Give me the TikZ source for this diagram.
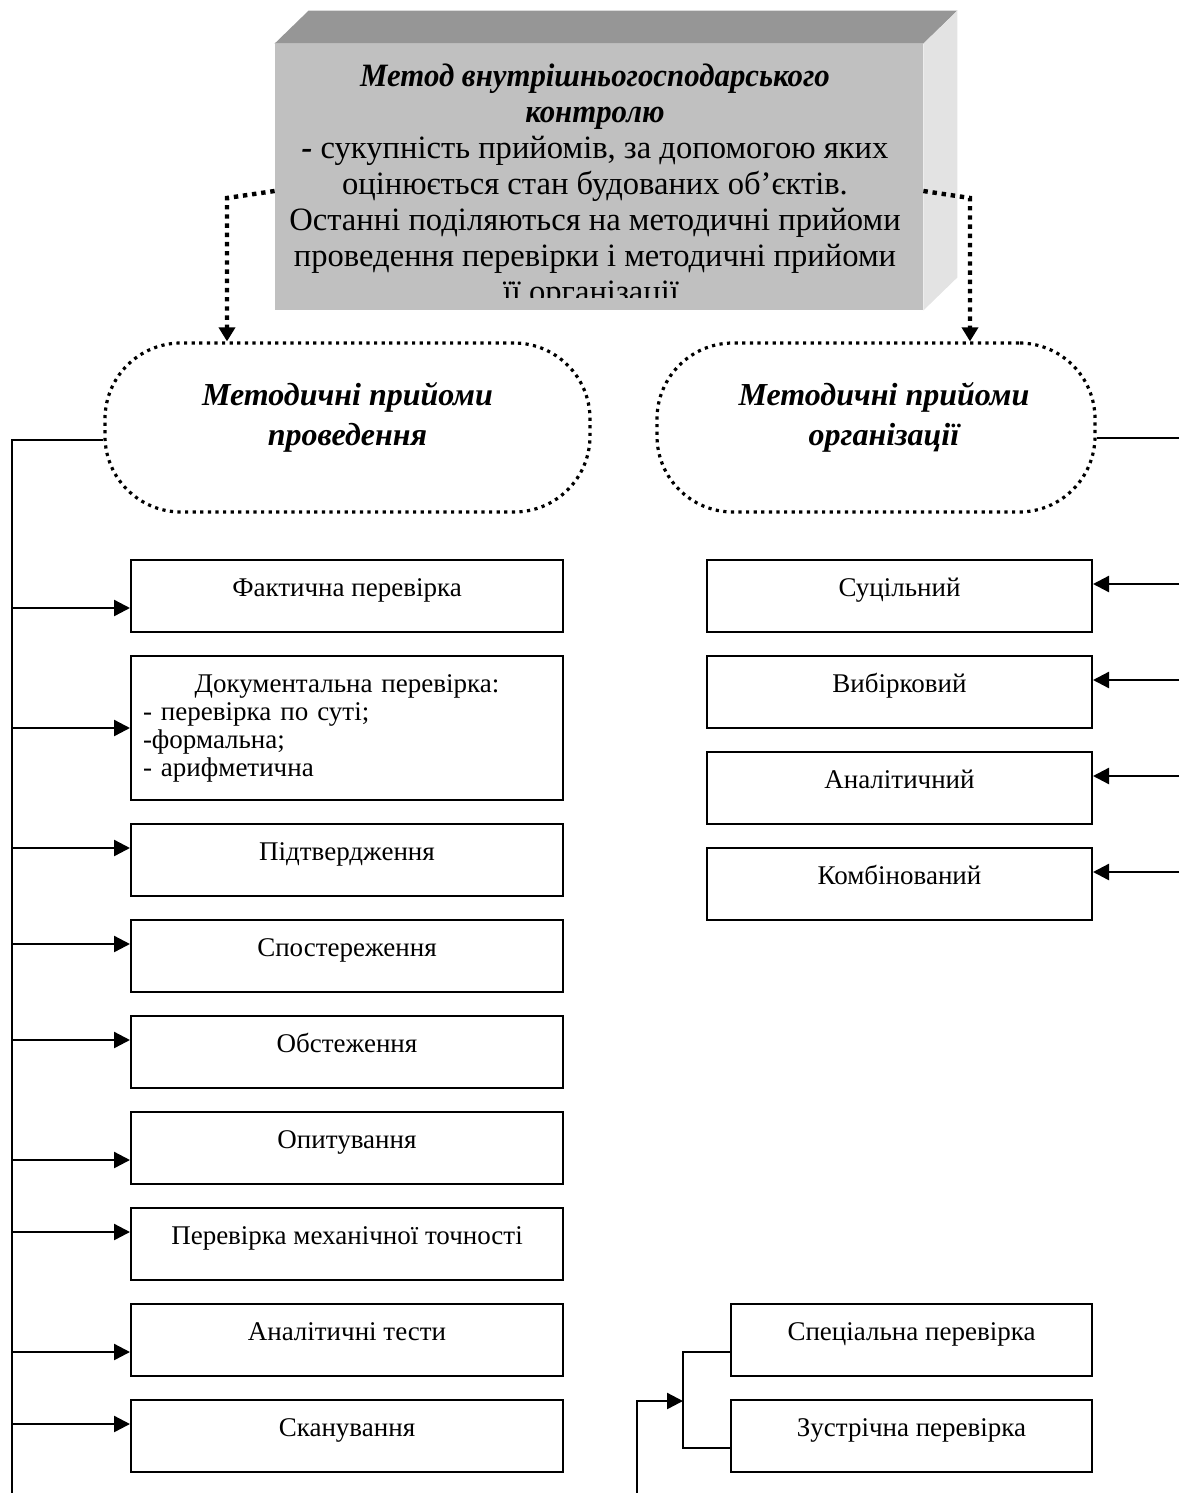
\documentclass[tikz,border=0pt]{standalone}
\usepackage{fontspec}
\usepackage{graphicx}
\setmainfont{Liberation Serif}
\usetikzlibrary{arrows.meta,calc}

\definecolor{frontgray}{RGB}{192,192,192}
\definecolor{topgray}{RGB}{150,150,150}
\definecolor{sidegray}{RGB}{227,227,227}

\newcommand{\headline}[1]{\scalebox{0.945}[1]{\fontsize{16.3}{18}\selectfont\bfseries\itshape #1}}

\begin{document}
\begin{tikzpicture}[
  x=0.5pt, y=-0.5pt,
  pbase/.style={draw, line width=1pt, font=\fontsize{13.5}{14}\selectfont},
  pbox/.style={pbase, minimum height=36pt, inner ysep=0pt,
               text height=18pt, text depth=18pt},
  lwide/.style={minimum width=216pt},
  rwide/.style={minimum width=192.5pt},
  swide/.style={minimum width=180.5pt},
  oval/.style={draw, line width=1.6pt, dash pattern=on 1.6pt off 2.2pt,
               rounded corners=38pt, minimum height=84.5pt},
  ovtext/.style={font=\fontsize{16}{20}\selectfont\bfseries\itshape,
                 align=center, yshift=5pt},
  maintext/.style={font=\fontsize{16.3}{18}\selectfont, align=center, inner sep=0pt},
  link/.style={line width=1pt},
  arr/.style={line width=1.2pt, -{Triangle[length=8pt,width=8pt]}},
  dotlink/.style={line width=2.2pt, dash pattern=on 2.2pt off 2.4pt,
                  -{Triangle[length=7pt,width=8pt]}}
]
\useasboundingbox (0,0) rectangle (1179,1493);

% ---- raised block with the definition ----
\node[fill=frontgray, minimum width=324pt, minimum height=133pt, inner sep=0pt] (main) at (599,177) {};
\fill[topgray] (main.north west) -- ++(34,-33) -- ($(main.north east)+(34,-33)$) -- (main.north east) -- cycle;
\fill[sidegray] (main.north east) -- ++(34,-33) -- ($(main.south east)+(34,-33)$) -- (main.south east) -- cycle;
\begin{scope}
  \clip (main.north west) rectangle ($(main.south east)+(0,-13)$);
  \node[maintext, anchor=north] (mtext) at (595,63)
    {\headline{Метод внутрішньогосподарського}\\
     \headline{контролю}\\
     \textbf{\textit{-}} сукупність прийомів, за допомогою яких\\
     оцінюється стан будованих об’єктів.\\
     Останні поділяються на методичні прийоми\\
     проведення перевірки і методичні прийоми\\
     її організації.};
\end{scope}

% ---- the two groups of techniques ----
\node[oval, minimum width=242.5pt, label={[ovtext]center:Методичні прийоми\\проведення}] (lp) at (347.5,427.5) {};
\node[oval, minimum width=219pt, label={[ovtext, xshift=4pt]center:Методичні прийоми\\організації}] (rp) at (876,427.5) {};

\coordinate (lk) at (227,198);
\coordinate (rk) at (970,198);
\draw[dotlink] ([yshift=-7pt]main.west) -- (lk) -- (lk |- lp.north);
\draw[dotlink] ([yshift=-7pt]main.east) -- (rk) -- (rk |- rp.north);

% ---- techniques of carrying out the check ----
\node[pbox, lwide] (fakt)  at (347,596)  {Фактична перевірка};
\node[pbase, lwide, minimum height=72pt, text width=204pt, inner xsep=6pt, align=left] (dok) at (347,728)
  {\makebox[204pt][c]{Документальна перевірка:}\\- перевірка по суті;\\-формальна;\\- арифметична};
\node[pbox, lwide] (pidt)  at (347,860)  {Підтвердження};
\node[pbox, lwide] (spost) at (347,956)  {Спостереження};
\node[pbox, lwide] (obst)  at (347,1052) {Обстеження};
\node[pbox, lwide] (opyt)  at (347,1148) {Опитування};
\node[pbox, lwide] (mekh)  at (347,1244) {Перевірка механічної точності};
\node[pbox, lwide] (anal)  at (347,1340) {Аналітичні тести};
\node[pbox, lwide] (skan)  at (347,1436) {Сканування};

\coordinate (tl) at (12,440);
\coordinate (tb) at (12,1493);
\draw[link] (lp.west |- tl) -- (tl) -- (tb);
\draw[arr] ([yshift=-6pt]fakt.west -| tl) -- ([yshift=-6pt]fakt.west);
\draw[arr] (dok.west -| tl) -- (dok.west);
\draw[arr] ([yshift=6pt]pidt.west -| tl) -- ([yshift=6pt]pidt.west);
\draw[arr] ([yshift=6pt]spost.west -| tl) -- ([yshift=6pt]spost.west);
\draw[arr] ([yshift=6pt]obst.west -| tl) -- ([yshift=6pt]obst.west);
\draw[arr] ([yshift=-6pt]opyt.west -| tl) -- ([yshift=-6pt]opyt.west);
\draw[arr] ([yshift=6pt]mekh.west -| tl) -- ([yshift=6pt]mekh.west);
\draw[arr] ([yshift=-6pt]anal.west -| tl) -- ([yshift=-6pt]anal.west);
\draw[arr] ([yshift=6pt]skan.west -| tl) -- ([yshift=6pt]skan.west);

% ---- techniques of organising the check ----
\node[pbox, rwide] (suc)   at (899.5,596) {Суцільний};
\node[pbox, rwide] (vyb)   at (899.5,692) {Вибірковий};
\node[pbox, rwide] (analr) at (899.5,788) {Аналітичний};
\node[pbox, rwide] (komb)  at (899.5,884) {Комбінований};

\coordinate (tr) at (1179,438);
\draw[link] (rp.east |- tr) -- (tr);
\draw[arr] ([yshift=6pt]suc.east -| tr) -- ([yshift=6pt]suc.east);
\draw[arr] ([yshift=6pt]vyb.east -| tr) -- ([yshift=6pt]vyb.east);
\draw[arr] ([yshift=6pt]analr.east -| tr) -- ([yshift=6pt]analr.east);
\draw[arr] ([yshift=6pt]komb.east -| tr) -- ([yshift=6pt]komb.east);

% ---- special and counter checks ----
\node[pbox, swide] (spec)  at (911.5,1340) {Спеціальна перевірка};
\node[pbox, swide] (zustr) at (911.5,1436) {Зустрічна перевірка};

\coordinate (bj) at (683,1401);
\coordinate (bb) at (637,1493);
\draw[link] ([yshift=-6pt]spec.west) -| (bj) |- ([yshift=-6pt]zustr.west);
\draw[arr] (bb) |- (bj);
\end{tikzpicture}
\end{document}
